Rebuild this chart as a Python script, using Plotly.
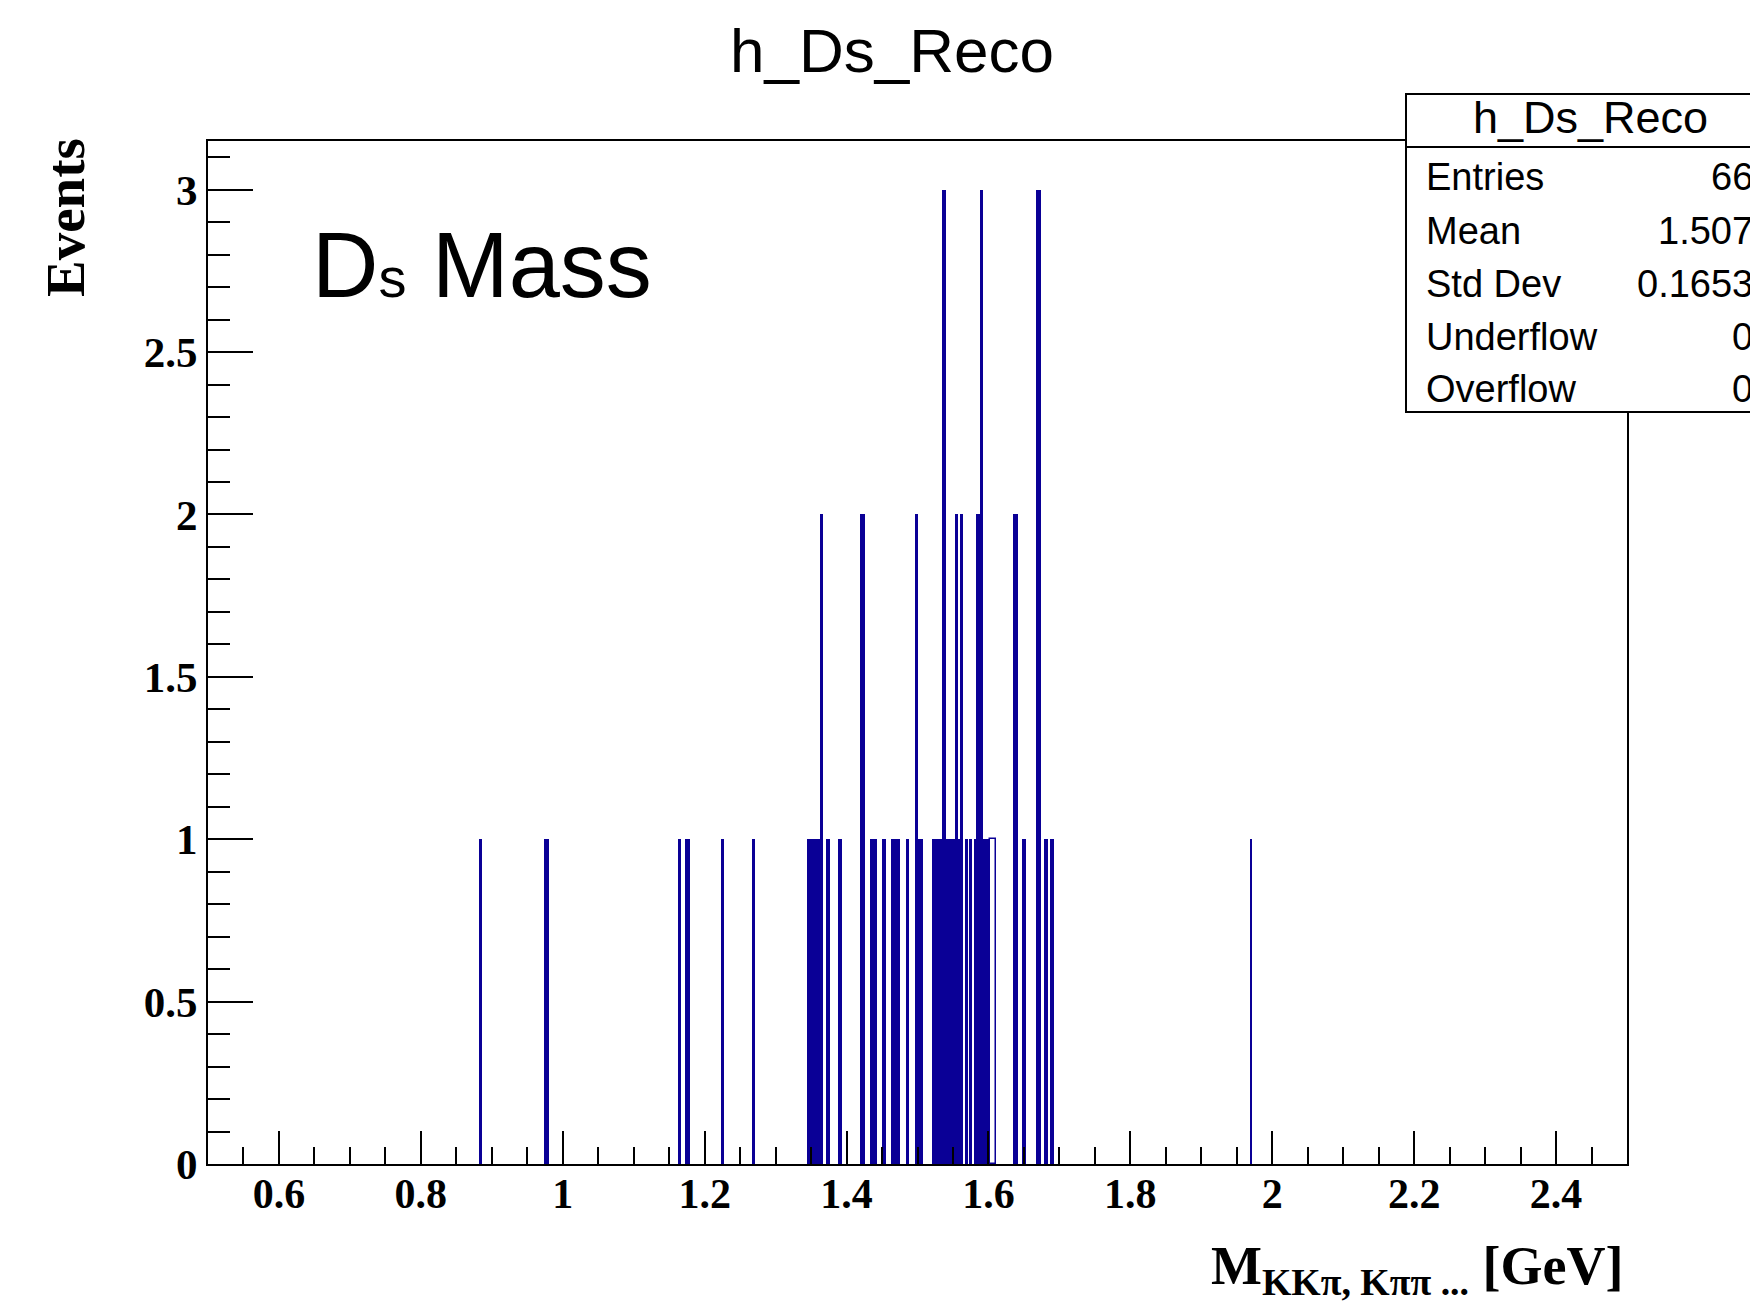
import plotly.graph_objects as go

# ---- data: non-empty bins of h_Ds_Reco (lower edge, upper edge, entries) ----
bin_lo = [0.8830, 0.9742, 1.1637, 1.1730, 1.2243, 1.2674, 1.3441, 1.3619, 1.3713,
          1.3873, 1.4193, 1.4334, 1.4499, 1.4625, 1.4851, 1.4978, 1.5006, 1.5203,
          1.5339, 1.5401, 1.5532, 1.5574, 1.5602, 1.5680, 1.5729, 1.5790, 1.5821,
          1.5884, 1.5919, 1.6345, 1.6466, 1.6674, 1.6776, 1.6861, 1.9690]
bin_hi = [0.8858, 0.9809, 1.1665, 1.1796, 1.2271, 1.2703, 1.3619, 1.3675, 1.3770,
          1.3935, 1.4263, 1.4428, 1.4549, 1.4747, 1.4879, 1.5006, 1.5071, 1.5339,
          1.5401, 1.5532, 1.5574, 1.5602, 1.5645, 1.5705, 1.5762, 1.5821, 1.5884,
          1.5919, 1.6018, 1.6410, 1.6526, 1.6740, 1.6833, 1.6927, 1.9721]
counts = [1, 1, 1, 1, 1, 1, 1, 2, 1,
          1, 2, 1, 1, 1, 1, 2, 1, 1,
          3, 1, 2, 1, 2, 1, 1, 1, 2,
          3, 1, 2, 1, 3, 1, 1, 1]

# bins drawn as open outline
open_lo = [1.6018]
open_hi = [1.6110]
open_counts = [1]

x_range = [0.5, 2.5]
y_range = [0, 3.15]
x_ticks = [0.6, 0.8, 1.0, 1.2, 1.4, 1.6, 1.8, 2.0, 2.2, 2.4]
x_ticktext = ["0.6", "0.8", "1", "1.2", "1.4", "1.6", "1.8", "2", "2.2", "2.4"]
y_ticks = [0, 0.5, 1, 1.5, 2, 2.5, 3]
y_ticktext = ["0", "0.5", "1", "1.5", "2", "2.5", "3"]

stat_names = ["Entries", "Mean", "Std Dev", "Underflow", "Overflow"]
stat_values = ["66", "1.507", "0.1653", "0", "0"]
hist_name = "h_Ds_Reco"

# ---- figure ----
NAVY = "#0a0096"
SERIF = "Liberation Serif"
SANS = "Liberation Sans"

fig = go.Figure()
fig.add_trace(go.Bar(
    x=[(a + b) / 2 for a, b in zip(bin_lo, bin_hi)],
    y=counts,
    width=[b - a for a, b in zip(bin_lo, bin_hi)],
    marker=dict(color=NAVY, line=dict(width=0)),
    showlegend=False, hoverinfo="skip",
))
fig.add_trace(go.Bar(
    x=[(a + b) / 2 for a, b in zip(open_lo, open_hi)],
    y=open_counts,
    width=[b - a for a, b in zip(open_lo, open_hi)],
    marker=dict(color="white", line=dict(width=1.5, color=NAVY)),
    showlegend=False, hoverinfo="skip",
))

OFF = 8  # page body margin
W, H = 1750, 1295
L, R, T, B = 200, 131, 133, 139
pw, ph = W - L - R, H - T - B


def px(xp):  # page x pixel -> paper
    return (xp - OFF - L) / pw


def py(yp):  # page y pixel -> paper
    return (H - B - (yp - OFF)) / ph


fig.update_layout(
    width=W, height=H,
    margin=dict(l=L, r=R, t=T, b=B, pad=0),
    paper_bgcolor="white", plot_bgcolor="white",
    barmode="overlay", bargap=0,
    showlegend=False,
    xaxis=dict(
        range=x_range, showgrid=False, zeroline=False,
        showline=True, mirror=True, linecolor="black", linewidth=2,
        ticks="inside", ticklen=33, tickwidth=2, tickcolor="black",
        tickvals=x_ticks, ticktext=x_ticktext,
        tickfont=dict(family=SERIF, size=42, color="black", weight="bold"),
        ticklabelstandoff=-8,
        minor=dict(dtick=0.05, tick0=0, ticks="inside", ticklen=17,
                   tickwidth=2, tickcolor="black", showgrid=False),
    ),
    yaxis=dict(
        range=y_range, showgrid=False, zeroline=False,
        showline=True, mirror=True, linecolor="black", linewidth=2,
        ticks="inside", ticklen=45, tickwidth=2, tickcolor="black",
        tickvals=y_ticks, ticktext=y_ticktext,
        tickfont=dict(family=SERIF, size=43, color="black", weight="bold"),
        ticklabelstandoff=0,
        minor=dict(dtick=0.1, tick0=0, ticks="inside", ticklen=22,
                   tickwidth=2, tickcolor="black", showgrid=False),
    ),
)

ann = []
# title
ann.append(dict(text=hist_name, x=px(892), y=py(50), xref="paper", yref="paper",
                xanchor="center", yanchor="middle", showarrow=False,
                font=dict(family=SANS, size=62, color="black")))
# Ds Mass
ann.append(dict(text="D<span style=\"font-size:56px\">s</span> Mass", x=px(310), y=py(265),
                xref="paper", yref="paper",
                xanchor="left", yanchor="middle", showarrow=False,
                font=dict(family=SANS, size=92, color="black")))
# y-axis title
ann.append(dict(text="Events", x=px(65), y=py(218), xref="paper", yref="paper",
                xanchor="center", yanchor="middle", textangle=-90, showarrow=False,
                font=dict(family=SERIF, size=55, color="black", weight="bold")))
# x-axis title
ann.append(dict(text="M<sub>KK\u03c0, K\u03c0\u03c0 ...</sub> [GeV]", x=px(1625), y=py(1269),
                xref="paper", yref="paper", xanchor="right", yanchor="middle",
                showarrow=False,
                font=dict(family=SERIF, size=54, color="black", weight="bold")))

# stats box
box_l, box_r, box_t, box_sep, box_b = 1406, 1770, 94, 147, 412
shapes = [
    dict(type="rect", xref="paper", yref="paper", x0=px(box_l), x1=px(box_r),
         y0=py(box_b), y1=py(box_t), line=dict(color="black", width=2),
         fillcolor="white", layer="above"),
    dict(type="line", xref="paper", yref="paper", x0=px(box_l), x1=px(box_r),
         y0=py(box_sep), y1=py(box_sep), line=dict(color="black", width=2),
         layer="above"),
]
ann.append(dict(text=hist_name, x=px(1590), y=py(117), xref="paper", yref="paper",
                xanchor="center", yanchor="middle", showarrow=False,
                font=dict(family=SANS, size=45, color="black")))
row_y = [177, 231, 284, 337, 389]
for name, val, yy in zip(stat_names, stat_values, row_y):
    ann.append(dict(text=name, x=px(1424), y=py(yy), xref="paper", yref="paper",
                    xanchor="left", yanchor="middle", showarrow=False,
                    font=dict(family=SANS, size=38, color="black")))
    ann.append(dict(text=val, x=px(1755), y=py(yy), xref="paper", yref="paper",
                    xanchor="right", yanchor="middle", showarrow=False,
                    font=dict(family=SANS, size=38, color="black")))

fig.update_layout(annotations=ann, shapes=shapes)
fig.write_html("out.html")
